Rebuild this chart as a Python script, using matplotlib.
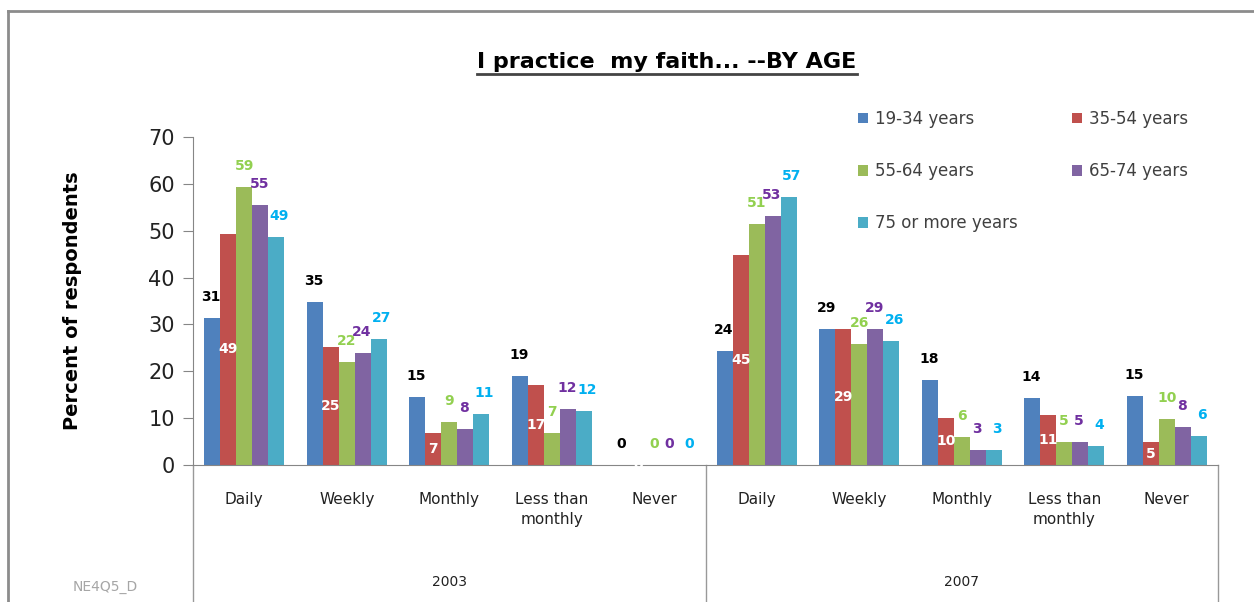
import matplotlib
matplotlib.use("Agg")
import matplotlib.pyplot as plt
from matplotlib.lines import Line2D
from matplotlib.transforms import blended_transform_factory
import numpy as np

# ---------------- data ----------------
frequencies = ["Daily", "Weekly", "Monthly", "Less than\nmonthly", "Never"]
years = ["2003", "2007"]
series_names = ["19-34 years", "35-54 years", "55-64 years", "65-74 years", "75 or more years"]

age_19_34 = [31.3, 34.8, 14.6, 19.1, 0, 24.4, 29.0, 18.1, 14.3, 14.8]
age_35_54 = [49.3, 25.2, 6.9, 17.0, 0, 44.9, 29.0, 10.1, 10.6, 4.9]
age_55_64 = [59.4, 22.0, 9.2, 6.8, 0, 51.4, 25.8, 6.0, 5.0, 9.8]
age_65_74 = [55.4, 23.9, 7.6, 11.9, 0, 53.2, 29.0, 3.2, 5.0, 8.2]
age_75_up = [48.7, 26.8, 10.9, 11.6, 0, 57.1, 26.5, 3.2, 4.1, 6.2]

series_values = [age_19_34, age_35_54, age_55_64, age_65_74, age_75_up]
bar_colors = ["#4F81BD", "#C0504D", "#9BBB59", "#8064A2", "#4BACC6"]
label_colors = ["#000000", "#FFFFFF", "#92D050", "#7030A0", "#00B0F0"]
label_dx = [-1, 0, 0, -1, 3]   # small horizontal nudges (pixels) of the value labels

# ---------------- figure ----------------
W, H = 1254, 602
fig = plt.figure(figsize=(W / 100, H / 100), dpi=100)
fig.patch.set_facecolor("white")

def fx(px):
    return px / W

def fy(py):
    return 1 - py / H

ax_left, ax_right, ax_top, ax_bot = 193, 1218, 137, 465
ax = fig.add_axes([fx(ax_left), fy(ax_bot), fx(ax_right - ax_left), (ax_bot - ax_top) / H])

n_cat = len(frequencies) * len(years)
x = np.arange(n_cat)
bw = 0.156
for i, (vals, col, lcol) in enumerate(zip(series_values, bar_colors, label_colors)):
    pos = x + (i - 2) * bw
    ax.bar(pos, vals, width=bw, color=col, label=series_names[i], zorder=2)
    for p, v in zip(pos, vals):
        txt = f"{v:.0f}"
        if i == 1:
            ax.text(p, v / 2, txt, ha="center", va="center", color=lcol,
                    fontsize=10, fontweight="bold", zorder=3)
        else:
            ax.annotate(txt, (p, v), xytext=(label_dx[i], 14), textcoords="offset pixels",
                        ha="center", va="bottom", color=lcol,
                        fontsize=10, fontweight="bold", zorder=3)

ax.set_xlim(-0.5, n_cat - 0.5)
ax.set_ylim(0, 70)
ax.set_yticks(range(0, 71, 10))
ax.tick_params(axis="y", direction="out", length=7, color="#868686", labelsize=15,
               labelcolor="#222222", pad=6)
ax.tick_params(axis="x", length=0, labelbottom=False)
for s in ["top", "right"]:
    ax.spines[s].set_visible(False)
ax.spines["left"].set_color("#868686")
ax.spines["bottom"].set_color("#868686")
ax.set_facecolor("none")

# category labels below axis
trans = blended_transform_factory(ax.transData, fig.transFigure)
for k in range(n_cat):
    ax.text(x[k], fy(492), frequencies[k % len(frequencies)], transform=trans,
            ha="center", va="top", fontsize=11, color="#222222", linespacing=1.45)
for j, yr in enumerate(years):
    cx = (j * len(frequencies) + (j + 1) * len(frequencies) - 1) / 2
    ax.text(cx, fy(582), yr, transform=trans, ha="center", va="center",
            fontsize=10, color="#222222")
for xb in [-0.5, 4.5, 9.5]:
    ax.add_line(Line2D([xb, xb], [fy(ax_bot), 0], transform=trans, color="#999999",
                       lw=1, clip_on=False))

# y label
fig.text(fx(72), fy(301), "Percent of respondents", rotation=90, ha="center", va="center",
         fontsize=14, fontweight="bold")

# legend
handles, labels = ax.get_legend_handles_labels()
order = [0, 2, 4, 1, 3]
leg = fig.legend([handles[o] for o in order], [labels[o] for o in order], ncol=2,
                 loc="upper left", bbox_to_anchor=(fx(858), fy(110)), frameon=False,
                 fontsize=12, handlelength=0.6, handleheight=0.6, handletextpad=0.4,
                 labelspacing=2.05, columnspacing=3.3, borderaxespad=0, borderpad=0)
for t in leg.get_texts():
    t.set_color("#404040")

# title with underline
title = fig.text(fx(667), fy(62), "I practice  my faith... --BY AGE", ha="center", va="center",
                 fontsize=16, fontweight="bold")
fig.canvas.draw()
bb = title.get_window_extent()
fig.add_artist(Line2D([bb.x0 / W, bb.x1 / W], [fy(74), fy(74)], transform=fig.transFigure,
                      color="#444444", lw=2))

# footnote
fig.text(fx(105), fy(587), "NE4Q5_D", ha="center", va="center", fontsize=10, color="#A6A6A6")

# outer frame
fig.add_artist(Line2D([fx(8), 1], [fy(11), fy(11)], transform=fig.transFigure,
                      color="#8C8C8C", lw=2))
fig.add_artist(Line2D([fx(8), fx(8)], [fy(11), 0], transform=fig.transFigure,
                      color="#8C8C8C", lw=2))

fig.savefig("out.png", dpi=100)
